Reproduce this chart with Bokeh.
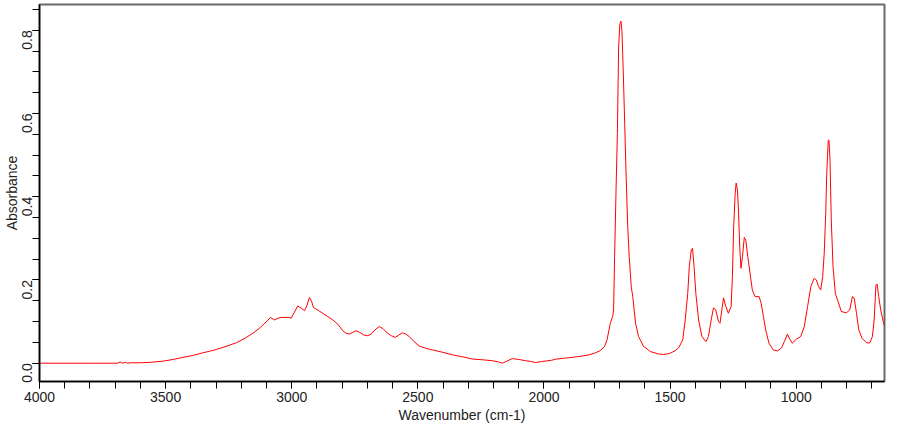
import math
from bokeh.plotting import figure
from bokeh.models import Range1d, SingleIntervalTicker, NumeralTickFormatter, ColumnDataSource
from bokeh.embed import file_html
from bokeh.resources import INLINE

wavenumber = [4000, 3800, 3690, 3680, 3672, 3660, 3650, 3640, 3600, 3560, 3510, 3470, 3431, 3390,
              3352, 3310, 3272, 3220, 3185, 3154, 3130, 3114, 3095, 3085, 3068, 3055, 3042, 3010,
              3002, 2990, 2976, 2962, 2949, 2940, 2930, 2922, 2914, 2895, 2877, 2857, 2837, 2815,
              2798, 2785, 2771, 2758, 2745, 2730, 2715, 2699, 2685, 2670, 2653, 2638, 2620, 2605,
              2590, 2575, 2561, 2548, 2534, 2515, 2495, 2470, 2442, 2400, 2363, 2320, 2284, 2240,
              2205, 2180, 2165, 2150, 2126, 2100, 2073, 2050, 2034, 2010, 1994, 1970, 1954, 1920,
              1888, 1850, 1822, 1800, 1777, 1760, 1750, 1737, 1728, 1724, 1720, 1714, 1709, 1704,
              1699, 1695, 1691, 1688, 1685, 1680, 1675, 1668, 1662, 1654, 1648, 1637, 1625, 1605,
              1578, 1545, 1525, 1505, 1493, 1480, 1466, 1450, 1440, 1430, 1424, 1416, 1411, 1405,
              1398, 1387, 1374, 1358, 1348, 1337, 1328, 1319, 1308, 1302, 1295, 1288, 1279, 1269,
              1258, 1253, 1248, 1242, 1238, 1233, 1229, 1224, 1219, 1213, 1206, 1200, 1192, 1183,
              1174, 1163, 1147, 1139, 1130, 1121, 1108, 1091, 1074, 1058, 1047, 1035, 1027, 1016,
              999, 982, 968, 955, 942, 929, 920, 911, 903, 895, 889, 883, 879, 873, 870, 866, 861,
              854, 845, 834, 821, 801, 788, 777, 770, 761, 752, 739, 721, 708, 698, 691, 684, 679,
              673, 665, 655, 650]
absorbance = [0.0, 0.0, 0.0, 0.003, 0.0, 0.002, 0.0, 0.001, 0.001, 0.002, 0.005, 0.009, 0.014, 0.019,
              0.025, 0.031, 0.038, 0.049, 0.060, 0.072, 0.083, 0.092, 0.103, 0.110, 0.104, 0.108, 0.110, 0.110,
              0.108, 0.122, 0.1375, 0.132, 0.126, 0.138, 0.158, 0.150, 0.134, 0.127, 0.120, 0.112, 0.104, 0.092,
              0.078, 0.072, 0.070, 0.074, 0.078, 0.074, 0.068, 0.066, 0.070, 0.080, 0.088, 0.083, 0.072, 0.066,
              0.062, 0.068, 0.073, 0.070, 0.064, 0.052, 0.0415, 0.036, 0.032, 0.026, 0.020, 0.015, 0.010, 0.008,
              0.006, 0.003, 0.0, 0.004, 0.011, 0.009, 0.006, 0.004, 0.0015, 0.004, 0.005, 0.007, 0.0096, 0.012,
              0.014, 0.017, 0.020, 0.024, 0.030, 0.040, 0.056, 0.096, 0.112, 0.128, 0.256, 0.424, 0.552, 0.760,
              0.815, 0.822, 0.800, 0.744, 0.688, 0.576, 0.464, 0.328, 0.256, 0.184, 0.160, 0.096, 0.064, 0.040,
              0.028, 0.022, 0.021, 0.023, 0.026, 0.030, 0.037, 0.056, 0.104, 0.168, 0.232, 0.272, 0.276, 0.232,
              0.168, 0.104, 0.064, 0.052, 0.064, 0.104, 0.133, 0.128, 0.100, 0.096, 0.128, 0.157, 0.136, 0.120,
              0.136, 0.208, 0.328, 0.408, 0.433, 0.416, 0.368, 0.280, 0.228, 0.256, 0.302, 0.296, 0.256, 0.216,
              0.176, 0.160, 0.160, 0.144, 0.112, 0.080, 0.048, 0.032, 0.0295, 0.037, 0.052, 0.070, 0.060, 0.048,
              0.058, 0.064, 0.088, 0.136, 0.184, 0.204, 0.200, 0.184, 0.176, 0.208, 0.264, 0.360, 0.456, 0.536,
              0.536, 0.488, 0.344, 0.232, 0.168, 0.148, 0.124, 0.121, 0.128, 0.160, 0.156, 0.120, 0.080, 0.060,
              0.049, 0.049, 0.064, 0.104, 0.188, 0.190, 0.160, 0.128, 0.100, 0.0895]

x_label = "Wavenumber (cm-1)"
y_label = "Absorbance"

FONT = "Liberation Sans"

p = figure(width=910, height=425, output_backend="svg", toolbar_location=None,
           x_range=Range1d(4000, 650), y_range=Range1d(-0.044, 0.862),
           min_border_left=36, min_border_right=26, min_border_top=4, min_border_bottom=44)
p.background_fill_color = "white"
p.border_fill_color = "white"
p.outline_line_color = "#6a6a6a"
p.outline_line_width = 2
p.grid.visible = False

src = ColumnDataSource(dict(x=wavenumber, y=absorbance))
p.line("x", "y", source=src, line_color="#ff0000", line_width=1)

p.xaxis.ticker = SingleIntervalTicker(interval=500, num_minor_ticks=5)
p.yaxis.ticker = SingleIntervalTicker(interval=0.2, num_minor_ticks=4)
p.yaxis.formatter = NumeralTickFormatter(format="0.0")
p.xaxis.axis_label = x_label
p.yaxis.axis_label = y_label
p.yaxis.major_label_orientation = math.pi / 2

for ax in (p.xaxis[0], p.yaxis[0]):
    ax.major_tick_out = 7
    ax.minor_tick_out = 7
    ax.major_tick_in = 0
    ax.minor_tick_in = 0
    ax.axis_line_color = "black"
    ax.axis_line_width = 1.5
    ax.major_tick_line_color = "black"
    ax.minor_tick_line_color = "black"
    ax.major_label_text_font = FONT
    ax.major_label_text_font_size = "14px"
    ax.major_label_text_color = "#222222"
    ax.axis_label_text_font = FONT
    ax.axis_label_text_font_size = "14px"
    ax.axis_label_text_font_style = "normal"
    ax.axis_label_text_color = "#222222"

p.xaxis.major_label_standoff = 3
p.xaxis.axis_label_standoff = 2
p.yaxis.major_label_standoff = 5
p.yaxis.axis_label_standoff = -5

open("out.html", "w").write(file_html(p, INLINE))
